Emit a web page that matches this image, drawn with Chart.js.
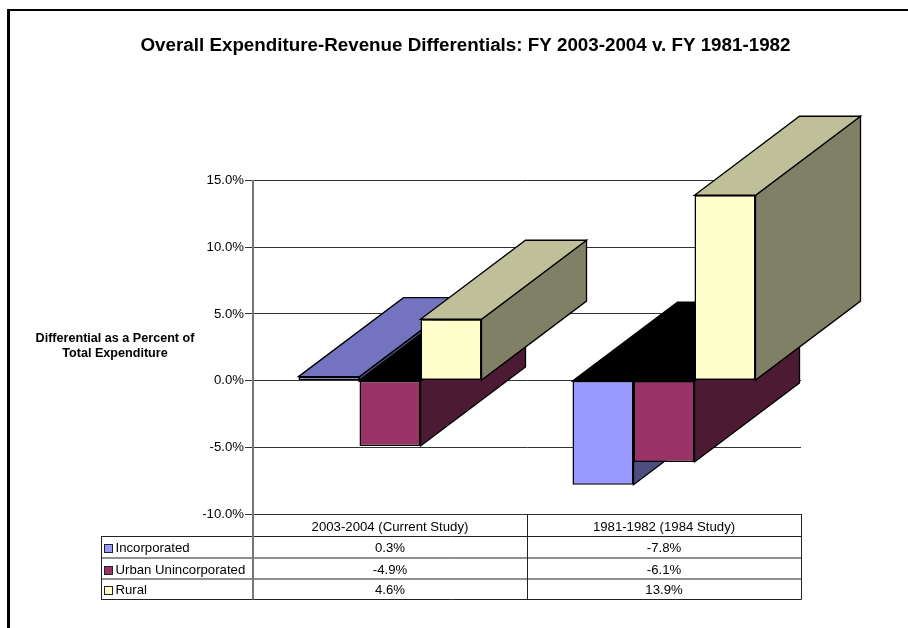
<!DOCTYPE html>
<html>
<head>
<meta charset="utf-8">
<title>Expenditure-Revenue Differentials</title>
<script src="https://cdn.jsdelivr.net/npm/chart.js@4"></script>
<style>
    body { margin: 0; background: #fff; }
    canvas { display: block; }
</style>
</head>
<body>
<canvas id="chart" width="908" height="628"></canvas>
<script>
const categories = ['2003-2004 (Current Study)', '1981-1982 (1984 Study)'];
const seriesNames = ['Incorporated', 'Urban Unincorporated', 'Rural'];
const incorporated = [0.3, -7.8];
const urban = [-4.9, -6.1];
const rural = [4.6, 13.9];

const fillColors = ['#9999ff', '#993366', '#ffffcc'];
const topColors = ['#7373bf', '#732650', '#bfbf99'];
const sideColors = ['#4d4d80', '#4c1a33', '#808066'];

const fontName = '"Liberation Sans", Arial, sans-serif';
const depthX = 105;
const depthY = 79;
const tableRows = [536.5, 558, 579, 599.5];

function face(ctx, points, color) {
    ctx.beginPath();
    points.forEach((p, i) => i ? ctx.lineTo(p[0], p[1]) : ctx.moveTo(p[0], p[1]));
    ctx.closePath();
    ctx.fillStyle = color;
    ctx.fill();
    ctx.strokeStyle = '#000';
    ctx.lineWidth = 1.3;
    ctx.stroke();
}

// bars are painted here, left to right, so each one covers the depth of the one before it
const depthBars = {
    id: 'depthBars',
    beforeDatasetsDraw(chart) {
        const ctx = chart.ctx;
        categories.forEach((cat, c) => {
            chart.data.datasets.forEach((ds, d) => {
                const bar = chart.getDatasetMeta(d).data[c];
                const l = bar.x - bar.width / 2;
                const r = bar.x + bar.width / 2;
                const t = Math.min(bar.y, bar.base);
                const b = Math.max(bar.y, bar.base);
                const topColor = ds.data[c] < 0 ? '#000' : topColors[d];
                face(ctx, [[r, t], [r + depthX, t - depthY], [r + depthX, b - depthY], [r, b]], sideColors[d]);
                face(ctx, [[l, t], [l + depthX, t - depthY], [r + depthX, t - depthY], [r, t]], topColor);
                bar.draw(ctx);
            });
        });
        return false;
    }
};

const pageParts = {
    id: 'pageParts',
    beforeDraw(chart) {
        const ctx = chart.ctx;
        ctx.save();
        ctx.fillStyle = '#000';
        ctx.fillRect(7, 9, 901, 2);
        ctx.fillRect(7, 9, 3, 619);
        ctx.fillStyle = '#000';
        ctx.font = 'bold 12.6px ' + fontName;
        ctx.textAlign = 'center';
        ctx.textBaseline = 'middle';
        ctx.fillText('Differential as a Percent of', 115, 339);
        ctx.fillText('Total Expenditure', 115, 354);
        ctx.restore();
    },
    afterDraw(chart) {
        const ctx = chart.ctx;
        const area = chart.chartArea;
        const x = chart.scales.x;
        const mid = (x.getPixelForValue(0) + x.getPixelForValue(1)) / 2;
        const bottom = tableRows[tableRows.length - 1];
        const values = [incorporated, urban, rural];
        ctx.save();
        ctx.strokeStyle = '#222';
        ctx.lineWidth = 1;
        ctx.beginPath();
        tableRows.forEach(y => { ctx.moveTo(101, y); ctx.lineTo(area.right + 0.5, y); });
        ctx.moveTo(101.5, tableRows[0]); ctx.lineTo(101.5, bottom);
        ctx.moveTo(Math.round(mid) + 0.5, area.bottom); ctx.lineTo(Math.round(mid) + 0.5, bottom);
        ctx.moveTo(area.right + 0.5, area.bottom); ctx.lineTo(area.right + 0.5, bottom);
        ctx.stroke();
        ctx.strokeStyle = '#777';
        ctx.lineWidth = 2;
        ctx.beginPath();
        ctx.moveTo(area.left, area.bottom);
        ctx.lineTo(area.left, bottom);
        ctx.stroke();

        ctx.font = '13.2px ' + fontName;
        ctx.textBaseline = 'middle';
        seriesNames.forEach((name, i) => {
            const y = (tableRows[i] + tableRows[i + 1]) / 2 + 1;
            ctx.fillStyle = fillColors[i];
            ctx.strokeStyle = '#222';
            ctx.lineWidth = 1;
            ctx.fillRect(104.5, Math.round(y) - 3.5, 8, 8);
            ctx.strokeRect(104.5, Math.round(y) - 3.5, 8, 8);
            ctx.fillStyle = '#000';
            ctx.textAlign = 'left';
            ctx.fillText(name, 115.5, y + 0.5);
            ctx.textAlign = 'center';
            values[i].forEach((v, c) => {
                ctx.fillText(v.toFixed(1) + '%', x.getPixelForValue(c), y + 0.5);
            });
        });
        ctx.restore();
    }
};

new Chart(document.getElementById('chart'), {
    type: 'bar',
    data: {
        labels: categories,
        datasets: [
            { label: seriesNames[0], data: incorporated, backgroundColor: fillColors[0] },
            { label: seriesNames[1], data: urban, backgroundColor: fillColors[1] },
            { label: seriesNames[2], data: rural, backgroundColor: fillColors[2] }
        ]
    },
    options: {
        responsive: false,
        animation: false,
        categoryPercentage: 0.668,
        barPercentage: 1,
        borderColor: '#000',
        borderWidth: 1.5,
        borderSkipped: false,
        layout: { padding: { top: 25, right: 107, bottom: 0, left: 130 } },
        plugins: {
            legend: { display: false },
            tooltip: { enabled: false },
            title: {
                display: true,
                text: 'Overall Expenditure-Revenue Differentials: FY 2003-2004 v. FY 1981-1982',
                color: '#000',
                font: { family: fontName, size: 18.8, weight: 'bold' },
                padding: { top: 10, bottom: 123 }
            }
        },
        scales: {
            x: {
                grid: { display: false, drawTicks: false },
                border: { display: false },
                ticks: { color: '#000', font: { family: fontName, size: 13.2 }, padding: 5, maxRotation: 0 },
                afterFit(scale) { scale.height = 114; }
            },
            y: {
                min: -10,
                max: 15,
                grid: { color: '#333', tickLength: 8 },
                border: { color: '#777', width: 2 },
                ticks: {
                    stepSize: 5,
                    color: '#000',
                    padding: 1,
                    font: { family: fontName, size: 13.2 },
                    callback: v => v.toFixed(1) + '%'
                },
                afterFit(scale) { scale.width = 123; }
            }
        }
    },
    plugins: [pageParts, depthBars]
});
</script>
</body>
</html>
